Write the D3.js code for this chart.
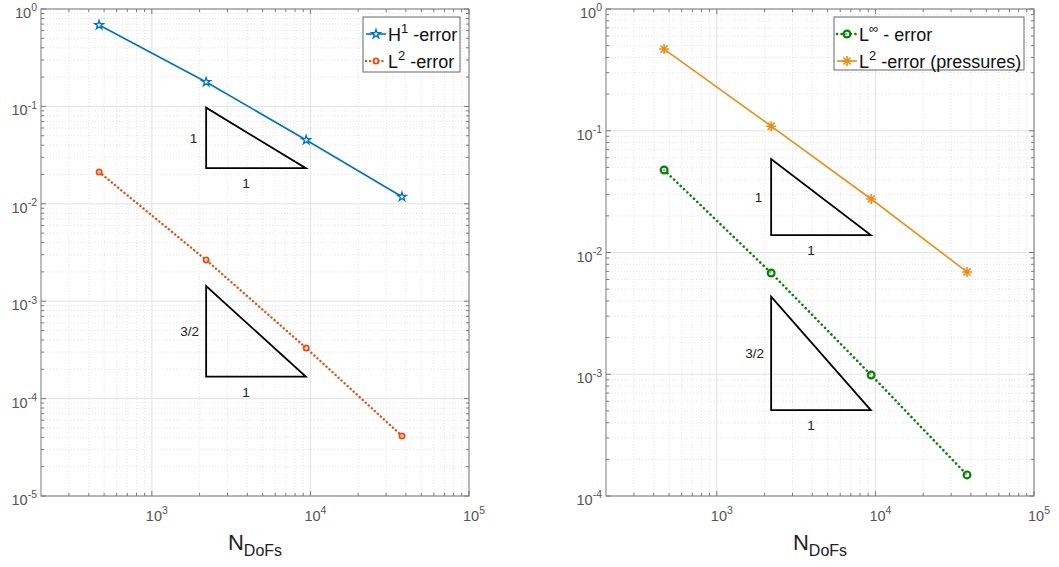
<!DOCTYPE html>
<html><head><meta charset="utf-8">
<script src="https://cdn.jsdelivr.net/npm/d3@7"></script>
<style>body{margin:0;background:#fff;} text{font-family:"Liberation Sans",Arial,sans-serif;}</style>
</head><body><svg id="c" width="1059" height="567"></svg>
<script>
// ---- data ----
const dofs = [465, 2200, 9400, 37800];
const errH1 = [0.685, 0.178, 0.0452, 0.0118];
const errL2 = [0.0212, 0.00265, 0.000331, 0.0000413];
const errLinf = [0.0476, 0.00679, 0.000986, 0.000149];
const errL2p = [0.469, 0.109, 0.0275, 0.00692];
const xDomain = [200, 1e5];
const yDomainLeft = [1e-5, 1];
const yDomainRight = [1e-4, 1];
const xTickExps = [3, 4, 5];
const yTickExpsLeft = [-5, -4, -3, -2, -1, 0];
const yTickExpsRight = [-4, -3, -2, -1, 0];
const triLeft = [
  {x0: 2200, x1: 9350, yTop: 0.097, yBot: 0.0232, rise: "1", run: "1"},
  {x0: 2200, x1: 9350, yTop: 0.00143, yBot: 0.000168, rise: "3/2", run: "1"}
];
const triRight = [
  {x0: 2200, x1: 9350, yTop: 0.0586, yBot: 0.0139, rise: "1", run: "1"},
  {x0: 2200, x1: 9350, yTop: 0.00433, yBot: 0.000508, rise: "3/2", run: "1"}
];

const svg = d3.select("#c");
svg.append("rect").attr("width",1059).attr("height",567).attr("fill","#fff");

function star8(r){
  let p="";
  for(let i=0;i<4;i++){const a=i*Math.PI/4;const dx=r*Math.cos(a),dy=r*Math.sin(a);p+=`M${-dx},${-dy}L${dx},${dy}`;}
  return p;
}
function drawMarker(g, type, x, y, color){
  if(type==="star"){
    g.append("path").attr("d", d3.symbol(d3.symbolStar, 24)()).attr("transform",`translate(${x},${y})`)
      .attr("fill","#fff").attr("stroke",color).attr("stroke-width",1.3);
  } else if(type==="circleS"){
    g.append("circle").attr("cx",x).attr("cy",y).attr("r",2.6).attr("fill","#fff").attr("fill-opacity",0.5).attr("stroke",color).attr("stroke-width",1.8);
  } else if(type==="circleL"){
    g.append("circle").attr("cx",x).attr("cy",y).attr("r",3.4).attr("fill","#fff").attr("fill-opacity",0.5).attr("stroke",color).attr("stroke-width",2.2);
  } else if(type==="ast"){
    g.append("path").attr("d", star8(5)).attr("transform",`translate(${x},${y})`).attr("stroke",color).attr("stroke-width",1.6).attr("fill","none");
  }
}

function supText(g, x, y, base, exp, anchor, size, supSize, color){
  const t = g.append("text").attr("x",x).attr("y",y).attr("text-anchor",anchor)
    .attr("font-size",size).attr("fill",color);
  t.append("tspan").text(base);
  t.append("tspan").attr("dy",-size*0.45).attr("font-size",supSize).text(exp);
  return t;
}

function panel(opt){
  const {left,right,top,bottom,yDomain,yExps,series,tris,legend} = opt;
  const x = d3.scaleLog().domain(xDomain).range([left,right]);
  const y = d3.scaleLog().domain(yDomain).range([bottom,top]);
  const g = svg.append("g");
  const minorX=[], minorY=[];
  for(let e=2;e<=4;e++) for(let m=2;m<=9;m++){const v=m*Math.pow(10,e); if(v>xDomain[0]&&v<xDomain[1]) minorX.push(v);}
  for(let e=-6;e<=0;e++) for(let m=2;m<=9;m++){const v=m*Math.pow(10,e); if(v>yDomain[0]&&v<yDomain[1]) minorY.push(v);}
  const majorX = xTickExps.map(e=>Math.pow(10,e));
  const majorY = yExps.map(e=>Math.pow(10,e));
  // grid
  const grid = g.append("g");
  minorX.forEach(v=>grid.append("line").attr("x1",x(v)).attr("x2",x(v)).attr("y1",top).attr("y2",bottom).attr("stroke","#dedede").attr("stroke-width",0.8).attr("stroke-dasharray","1,2"));
  minorY.forEach(v=>grid.append("line").attr("y1",y(v)).attr("y2",y(v)).attr("x1",left).attr("x2",right).attr("stroke","#dedede").attr("stroke-width",0.8).attr("stroke-dasharray","1,2"));
  majorX.forEach(v=>grid.append("line").attr("x1",x(v)).attr("x2",x(v)).attr("y1",top).attr("y2",bottom).attr("stroke","#e2e2e2").attr("stroke-width",1));
  majorY.forEach(v=>grid.append("line").attr("y1",y(v)).attr("y2",y(v)).attr("x1",left).attr("x2",right).attr("stroke","#e2e2e2").attr("stroke-width",1));
  // triangles
  tris.forEach(t=>{
    g.append("path").attr("d",`M${x(t.x0)},${y(t.yTop)}L${x(t.x0)},${y(t.yBot)}L${x(t.x1)},${y(t.yBot)}Z`)
      .attr("fill","none").attr("stroke","#000").attr("stroke-width",1.8).attr("stroke-linejoin","miter");
    g.append("text").attr("x",x(t.x0)-(t.rise.length>1?7:9)).attr("y",(y(t.yTop)+y(t.yBot))/2+5).attr("text-anchor","end")
      .attr("font-size",13.5).attr("fill","#222").text(t.rise);
    g.append("text").attr("x",x(t.x0)+0.4*(x(t.x1)-x(t.x0))).attr("y",y(t.yBot)+20).attr("text-anchor","middle")
      .attr("font-size",13.5).attr("fill","#222").text(t.run);
  });
  // series
  series.forEach(s=>{
    const line = d3.line().x((d,i)=>x(dofs[i])).y(d=>y(d));
    g.append("path").attr("d",line(s.values)).attr("fill","none").attr("stroke",s.color)
      .attr("stroke-width",s.width).attr("stroke-dasharray",s.dash||null).attr("stroke-linecap",s.dash?"round":"butt");
    s.values.forEach((v,i)=>drawMarker(g,s.marker,x(dofs[i]),y(v),s.color));
  });
  // box
  const axc="#7a7a7a";
  g.append("rect").attr("x",left).attr("y",top).attr("width",right-left).attr("height",bottom-top)
    .attr("fill","none").attr("stroke",axc).attr("stroke-width",1);
  const tk=g.append("g").attr("stroke",axc).attr("stroke-width",1);
  majorX.concat(minorX).forEach(v=>{const L=majorX.includes(v)?5:3;
    tk.append("line").attr("x1",x(v)).attr("x2",x(v)).attr("y1",bottom).attr("y2",bottom-L);
    tk.append("line").attr("x1",x(v)).attr("x2",x(v)).attr("y1",top).attr("y2",top+L);});
  majorY.concat(minorY).forEach(v=>{const L=majorY.includes(v)?5:3;
    tk.append("line").attr("y1",y(v)).attr("y2",y(v)).attr("x1",left).attr("x2",left+L);
    tk.append("line").attr("y1",y(v)).attr("y2",y(v)).attr("x1",right).attr("x2",right-L);});
  const lc="#555";
  xTickExps.forEach(e=>{
    supText(g, x(Math.pow(10,e))+5, bottom+25, "10", String(e), "middle", 14.5, 10.5, lc);
  });
  yExps.forEach(e=>{
    supText(g, left-4, y(Math.pow(10,e))+9, "10", String(e), "end", 14.5, 10.5, lc);
  });
  // axis label
  const cx=(left+right)/2;
  const al=g.append("text").attr("x",cx).attr("y",550).attr("text-anchor","middle").attr("font-size",22).attr("fill","#222");
  al.append("tspan").text("N");
  al.append("tspan").attr("dy",6).attr("font-size",16).text("DoFs");
  // legend
  const lg=g.append("g");
  lg.append("rect").attr("x",legend.x).attr("y",legend.y).attr("width",legend.w).attr("height",legend.h)
    .attr("fill","#fff").attr("stroke","#666").attr("stroke-width",1);
  legend.items.forEach((it,i)=>{
    const yy=legend.y+17+i*27;
    const s=series[it.s];
    lg.append("line").attr("x1",legend.x+3).attr("x2",legend.x+23).attr("y1",yy).attr("y2",yy).attr("stroke",s.color)
      .attr("stroke-width",s.width).attr("stroke-dasharray",s.dash||null).attr("stroke-linecap",s.dash?"round":"butt");
    drawMarker(lg,s.marker,legend.x+13,yy,s.color);
    const t=lg.append("text").attr("x",legend.x+25).attr("y",yy+7).attr("font-size",18).attr("fill","#111");
    t.append("tspan").text(it.base);
    t.append("tspan").attr("dy",-8).attr("font-size",13).text(it.sup);
    t.append("tspan").attr("dy",8).text(it.rest);
  });
}

panel({left:41,right:469,top:9,bottom:496,yDomain:yDomainLeft,yExps:yTickExpsLeft,
  series:[{values:errH1,color:"#0072BD",width:1.6,marker:"star"},
          {values:errL2,color:"#D95319",width:2.4,dash:"0.1,4",marker:"circleS"}],
  tris:triLeft,
  legend:{x:363,y:17,w:97,h:55,items:[{s:0,base:"H",sup:"1",rest:" -error"},{s:1,base:"L",sup:"2",rest:" -error"}]}});
panel({left:606,right:1034,top:9,bottom:496,yDomain:yDomainRight,yExps:yTickExpsRight,
  series:[{values:errLinf,color:"#0A7F0A",width:2.6,dash:"0.1,4.5",marker:"circleL"},
          {values:errL2p,color:"#E8901A",width:1.6,marker:"ast"}],
  tris:triRight,
  legend:{x:834,y:17,w:190,h:53,items:[{s:0,base:"L",sup:"∞",rest:" - error"},{s:1,base:"L",sup:"2",rest:" -error (pressures)"}]}});
</script></body></html>
